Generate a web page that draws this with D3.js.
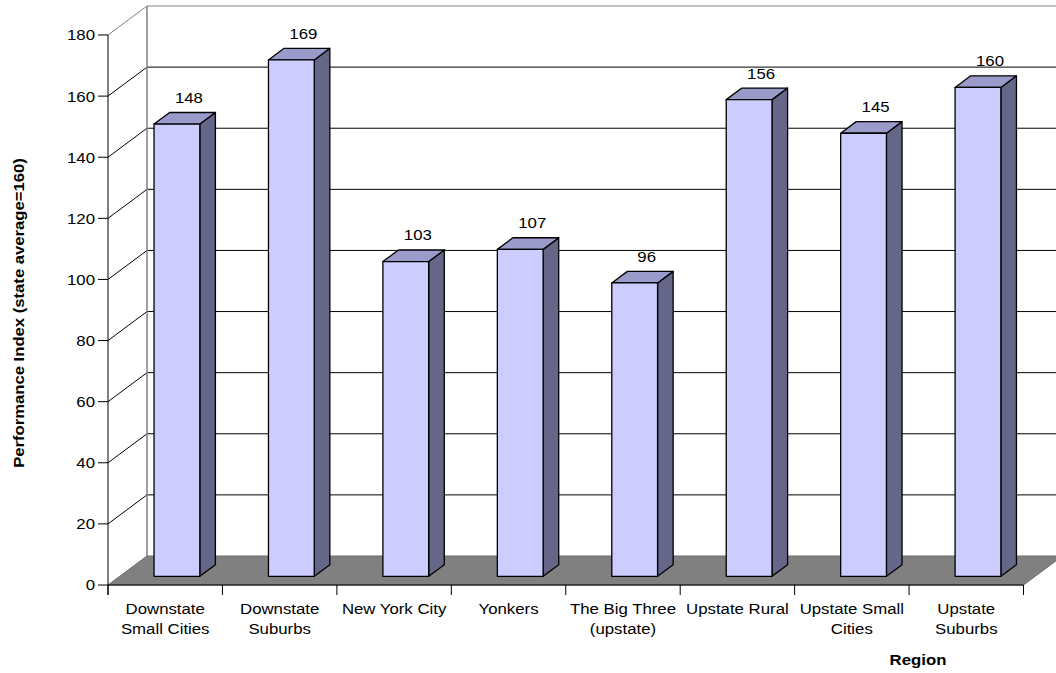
<!DOCTYPE html>
<html>
<head>
<meta charset="utf-8">
<script src="https://cdn.jsdelivr.net/npm/d3@7/dist/d3.min.js"></script>
<style>
  html, body { margin: 0; padding: 0; background: #ffffff; }
  svg { display: block; }
  text { font-family: "Liberation Sans", Arial, sans-serif; fill: #000; }
</style>
</head>
<body>
<svg id="chart" width="1056" height="673"></svg>
<script>
// Regions (multi-line labels) and their performance index values
const categories = [
  ["Downstate", "Small Cities"],
  ["Downstate", "Suburbs"],
  ["New York City"],
  ["Yonkers"],
  ["The Big Three", "(upstate)"],
  ["Upstate Rural"],
  ["Upstate Small", "Cities"],
  ["Upstate", "Suburbs"]
];
const values = [148, 169, 103, 107, 96, 156, 145, 160];
const yTicks = [0, 20, 40, 60, 80, 100, 120, 140, 160, 180];
const yTitle = "Performance Index (state average=160)";
const xTitle = "Region";

const svg = d3.select("#chart");

// 3D projection: depth goes up and to the right
const DX = 39, DY = 29;
const frontFrac = 0.3, backFrac = 0.7;   // bar depth within the floor
const off = f => [f * DX, -f * DY];

const names = categories.map(c => c.join(" "));
const x = d3.scaleBand().domain(names).range([108, 1023.5]).padding(0);
const y = d3.scaleLinear().domain([0, 180]).range([585, 35]);
const barW = x.bandwidth() * 0.4;

const xLeft = x.range()[0], xRight = x.range()[1];
const y0 = y(0), yTop = y(180);

// Back wall
const gWall = svg.append("g");
gWall.append("rect")
  .attr("x", xLeft + DX).attr("y", yTop - DY)
  .attr("width", xRight - xLeft + 10).attr("height", y0 - yTop)
  .attr("fill", "#fff");

// Horizontal gridlines on the back wall and diagonals on the left wall
yTicks.filter(v => v > 0).forEach(v => {
  const c = v === 180 ? "#808080" : "#000";
  gWall.append("line")
    .attr("x1", xLeft + DX).attr("x2", 1070)
    .attr("y1", y(v) - DY).attr("y2", y(v) - DY)
    .attr("stroke", c).attr("stroke-width", 1);
  gWall.append("line")
    .attr("x1", xLeft).attr("y1", y(v))
    .attr("x2", xLeft + DX).attr("y2", y(v) - DY)
    .attr("stroke", c).attr("stroke-width", 1);
});
// Left edge of the back wall
gWall.append("line")
  .attr("x1", xLeft + DX).attr("x2", xLeft + DX)
  .attr("y1", yTop - DY).attr("y2", y0 - DY)
  .attr("stroke", "#808080").attr("stroke-width", 1.5);

// Floor
svg.append("path")
  .attr("d", d3.line()([
    [xLeft, y0], [xRight, y0], [xRight + DX, y0 - DY], [xLeft + DX, y0 - DY]
  ]) + "Z")
  .attr("fill", "#808080")
  .attr("stroke", "#6a6a6a").attr("stroke-width", 1);

// Bars
const gBars = svg.append("g");
const fo = off(frontFrac), bo = off(backFrac);
values.forEach((v, i) => {
  const x0 = x(names[i]) + (x.bandwidth() - barW) / 2 + fo[0];
  const x1 = x0 + barW;
  const yb = y(0) + fo[1];
  const yt = y(v) + fo[1];
  const ddx = bo[0] - fo[0], ddy = bo[1] - fo[1];
  const g = gBars.append("g")
    .attr("stroke", "#000").attr("stroke-width", 1.3).attr("stroke-linejoin", "round");
  // side face
  g.append("path")
    .attr("d", d3.line()([[x1, yt], [x1 + ddx, yt + ddy], [x1 + ddx, yb + ddy], [x1, yb]]) + "Z")
    .attr("fill", "#666688");
  // top face
  g.append("path")
    .attr("d", d3.line()([[x0, yt], [x0 + ddx, yt + ddy], [x1 + ddx, yt + ddy], [x1, yt]]) + "Z")
    .attr("fill", "#9a9acb");
  // front face
  g.append("rect")
    .attr("x", x0).attr("y", yt).attr("width", barW).attr("height", yb - yt)
    .attr("fill", "#ccccff");
  // value label
  svg.append("text")
    .attr("transform", `translate(${x0 + barW / 2 + 12},${yt + ddy - 9.5}) scale(1.12,1)`)
    .attr("text-anchor", "middle")
    .attr("font-size", 15)
    .text(v);
});

// Value axis
const gAxis = svg.append("g").attr("stroke", "#000").attr("stroke-width", 1);
gAxis.append("line").attr("x1", xLeft).attr("x2", xLeft).attr("y1", yTop).attr("y2", y0 + 10);
yTicks.forEach(v => {
  gAxis.append("line").attr("x1", xLeft - 10).attr("x2", xLeft).attr("y1", y(v)).attr("y2", y(v));
  svg.append("text")
    .attr("transform", `translate(${xLeft - 13},${y(v)}) scale(1.12,1)`)
    .attr("text-anchor", "end").attr("dy", "0.36em")
    .attr("font-size", 15)
    .text(v);
});

// Category axis
gAxis.append("line").attr("x1", xLeft).attr("x2", xRight).attr("y1", y0).attr("y2", y0);
d3.range(names.length + 1).forEach(i => {
  const xx = xLeft + i * x.bandwidth();
  gAxis.append("line").attr("x1", xx).attr("x2", xx).attr("y1", y0).attr("y2", y0 + 10);
});
categories.forEach((lines, i) => {
  const cx = x(names[i]) + x.bandwidth() / 2;
  lines.forEach((t, j) => {
    svg.append("text")
      .attr("transform", `translate(${cx},${614 + j * 20}) scale(1.12,1)`)
      .attr("text-anchor", "middle")
      .attr("font-size", 15)
      .text(t);
  });
});

// Axis titles
svg.append("text")
  .attr("transform", "translate(918,665) scale(1.12,1)")
  .attr("text-anchor", "middle")
  .attr("font-size", 15).attr("font-weight", "bold")
  .text(xTitle);
svg.append("text")
  .attr("transform", "translate(24,313) rotate(-90) scale(1.15,1)")
  .attr("text-anchor", "middle")
  .attr("font-size", 14.5).attr("font-weight", "bold")
  .text(yTitle);
</script>
</body>
</html>
